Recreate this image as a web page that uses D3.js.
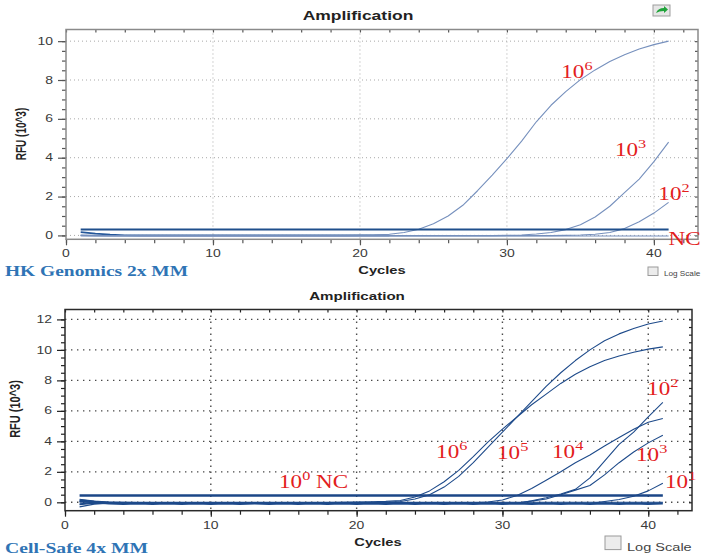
<!DOCTYPE html>
<html>
<head>
<meta charset="utf-8">
<script src="https://cdn.jsdelivr.net/npm/d3@7"></script>
<style>
  body { margin: 0; background: #fff; }
  svg { display: block; }
</style>
</head>
<body>
<svg id="chart" width="705" height="557"></svg>
<script>
// ---------- shared ----------
const cycles = d3.range(1, 42);            // cycle numbers 1..41
const xTickLabels = [0, 10, 20, 30, 40];

// ---------- panel 1: HK Genomics 2x MM ----------
const hkYTickLabels = [0, 2, 4, 6, 8, 10];
const hkThreshold = 0.31;
const hk1e6 = [0.00,0.00,-0.01,-0.01,-0.01,-0.01,-0.01,-0.01,-0.01,-0.01,-0.01,-0.01,-0.01,-0.01,-0.01,-0.01,-0.01,-0.01,-0.01,
               0.00,0.02,0.06,0.15,0.32,0.60,1.00,1.55,2.30,3.10,3.95,4.85,5.85,6.70,7.40,8.02,8.52,8.95,9.30,9.60,9.82,10.00];
const hk1e3 = [0.00,-0.01,-0.01,-0.01,-0.01,-0.01,-0.01,-0.01,-0.01,-0.01,-0.01,-0.01,-0.01,-0.01,-0.01,-0.01,-0.01,-0.01,-0.01,-0.01,
               -0.01,-0.01,-0.01,-0.01,-0.01,-0.01,-0.01,-0.01,-0.01,
               0.00,0.02,0.07,0.15,0.30,0.55,0.95,1.50,2.20,2.90,3.80,4.80];
const hk1e2 = [0.00,-0.01,-0.01,-0.01,-0.01,-0.01,-0.01,-0.01,-0.01,-0.01,-0.01,-0.01,-0.01,-0.01,-0.01,-0.01,-0.01,-0.01,-0.01,-0.01,
               -0.01,-0.01,-0.01,-0.01,-0.01,-0.01,-0.01,-0.01,-0.01,-0.01,-0.01,-0.01,-0.01,
               0.00,0.02,0.06,0.15,0.35,0.70,1.15,1.70];
const hkNC = [-0.03,-0.03,-0.03,-0.03,-0.03,-0.03,-0.03,-0.03,-0.03,-0.03,-0.03,-0.03,-0.03,-0.03,-0.03,-0.03,-0.03,-0.03,-0.03,-0.03,
              -0.03,-0.03,-0.03,-0.03,-0.03,-0.03,-0.03,-0.03,-0.03,-0.03,-0.03,-0.03,-0.03,-0.03,-0.03,-0.03,-0.03,-0.03,-0.03,-0.03,-0.03];
const hkBaseline = [0.17,0.09,0.04,0.01,0.00,0.00,0.00,0.00,0.00,0.00,0.00,0.00,0.00,0.00,0.00,0.00,0.00,0.00,0.00,0.00,0.00,0.00];
const hkLabelText  = ["10", "10", "10", "NC"];
const hkLabelSup   = ["6", "3", "2", ""];
const hkLabelCycle = [33.7, 37.35, 40.3, 41.0];
const hkLabelValue = [8.1, 4.1, 1.82, -0.49];

// ---------- panel 2: Cell-Safe 4x MM ----------
const csYTickLabels = [0, 2, 4, 6, 8, 10, 12];
const csThreshold = 0.45;
const cs1e6 = [0.20,0.08,0.02,0.00,-0.02,-0.03,-0.03,-0.03,-0.03,-0.03,-0.03,-0.03,-0.03,-0.02,-0.02,-0.02,-0.02,-0.01,0.00,0.01,0.03,0.06,
               0.12,0.35,0.75,1.35,2.10,3.00,3.95,4.80,5.60,6.40,7.10,7.80,8.40,8.90,9.30,9.60,9.85,10.05,10.20];
const cs1e5 = [-0.30,-0.12,-0.05,-0.04,-0.04,-0.04,-0.04,-0.04,-0.04,-0.04,-0.04,-0.04,-0.04,-0.04,-0.04,-0.04,-0.04,-0.04,-0.03,-0.02,-0.01,0.00,
               0.05,0.22,0.50,1.00,1.70,2.60,3.60,4.60,5.60,6.60,7.60,8.50,9.30,10.00,10.60,11.05,11.40,11.70,11.90];
const cs1e4 = [0.10,0.03,0.00,-0.02,-0.03,-0.03,-0.03,-0.03,-0.03,-0.03,-0.03,-0.03,-0.03,-0.03,-0.03,-0.03,-0.03,-0.03,-0.03,-0.03,
               -0.03,-0.03,-0.03,-0.03,-0.03,-0.03,-0.03,-0.03,
               0.02,0.15,0.45,0.90,1.45,2.00,2.60,3.10,3.70,4.25,4.80,5.25,5.50];
const cs1e3 = [-0.10,-0.02,-0.01,-0.05,-0.05,-0.05,-0.05,-0.05,-0.05,-0.05,-0.05,-0.05,-0.05,-0.05,-0.05,-0.05,-0.05,-0.05,-0.05,-0.05,
               -0.05,-0.05,-0.05,-0.05,-0.05,-0.05,-0.05,-0.05,-0.05,-0.05,-0.05,
               0.08,0.22,0.50,0.80,1.10,1.80,2.60,3.30,3.90,4.40];
const cs1e2 = [0.05,0.00,-0.06,-0.06,-0.06,-0.06,-0.06,-0.06,-0.06,-0.06,-0.06,-0.06,-0.06,-0.06,-0.06,-0.06,-0.06,-0.06,-0.06,-0.06,
               -0.06,-0.06,-0.06,-0.06,-0.06,-0.06,-0.06,-0.06,-0.06,-0.06,-0.06,
               0.10,0.30,0.55,0.85,1.60,2.70,3.80,4.60,5.60,6.55];
const cs1e1 = [-0.15,-0.05,-0.08,-0.08,-0.08,-0.08,-0.08,-0.08,-0.08,-0.08,-0.08,-0.08,-0.08,-0.08,-0.08,-0.08,-0.08,-0.08,-0.08,-0.08,
               -0.08,-0.08,-0.08,-0.08,-0.08,-0.08,-0.08,-0.08,-0.08,-0.08,-0.08,-0.08,-0.08,-0.08,-0.08,-0.08,
               0.05,0.18,0.40,0.75,1.25];
const cs1e0 = [0.12,0.02,-0.07,-0.09,-0.07,-0.09,-0.07,-0.09,-0.07,-0.09,-0.07,-0.09,-0.07,-0.09,-0.07,-0.09,-0.07,-0.09,-0.07,-0.09,
               -0.07,-0.09,-0.07,-0.09,-0.07,-0.09,-0.07,-0.09,-0.07,-0.09,-0.07,-0.09,-0.07,-0.09,-0.07,-0.09,-0.07,-0.09,-0.07,-0.09,-0.07];
const csNC = [0.00,0.00,0.00,0.00,0.00,0.00,0.00,0.00,0.00,0.00,0.00,0.00,0.00,0.00,0.00,0.00,0.00,0.00,0.00,0.00,
              0.00,0.00,0.00,0.00,0.00,0.00,0.00,0.00,0.00,0.00,0.00,0.00,0.00,0.00,0.00,0.00,0.00,0.00,0.00,0.00,0.00];
const csLabelText  = ["10", "10", "10", "10", "10", "10", "10"];
const csLabelSup   = ["0", "6", "5", "4", "3", "2", "1"];
const csLabelAfter = ["\u00a0NC", "", "", "", "", "", ""];
const csLabelCycle = [14.68, 25.45, 29.63, 33.4, 39.16, 39.92, 41.15];
const csLabelValue = [0.94, 2.91, 2.84, 2.91, 2.71, 7.04, 0.94];

// ---------- drawing ----------
const svg = d3.select("#chart");
const SX = 1.4;   // horizontal stretch of the exported lettering
const SANS = "'Liberation Sans', Arial, sans-serif";
const SERIF = "'Liberation Serif', 'Times New Roman', serif";

function sText(g, x, y, str, o) {
  const t = g.append("text")
    .attr("transform", `translate(${x},${y}) scale(${o.sx || SX},1)` + (o.rotate ? ` rotate(${o.rotate})` : ""))
    .attr("text-anchor", o.anchor || "start")
    .attr("font-family", o.family || SANS)
    .attr("font-size", o.size)
    .attr("font-weight", o.weight || "normal")
    .attr("fill", o.fill || "#333")
    .text(str);
  if (o.dy) t.attr("dy", o.dy);
  return t;
}

function drawPanel(p) {
  const g = svg.append("g");
  const x = d3.scaleLinear().domain([0, 43]).range([p.left, p.right]);
  const y = d3.scaleLinear().domain(p.yDomain).range([p.bottom, p.top]);

  // dotted grid
  g.append("g").selectAll("line").data(xTickLabels.slice(1)).join("line")
    .attr("x1", d => x(d)).attr("x2", d => x(d)).attr("y1", p.top).attr("y2", p.bottom)
    .attr("stroke", p.gridColor).attr("stroke-width", p.gridWidth).attr("stroke-dasharray", p.gridDash);
  g.append("g").selectAll("line").data(p.yTicks).join("line")
    .attr("x1", p.left).attr("x2", p.right).attr("y1", d => y(d)).attr("y2", d => y(d))
    .attr("stroke", p.gridColor).attr("stroke-width", p.gridWidth).attr("stroke-dasharray", p.gridDash);

  // axes ticks (outside left / bottom, inside right / top)
  const minorY = d3.range(0, p.yTicks[p.yTicks.length - 1] + 0.01, 0.5);
  const minorX = d3.range(0, 43, 2);
  const axisStyle = sel => {
    sel.select(".domain").remove();
    sel.selectAll("line").attr("stroke", p.tickColor).attr("stroke-width", 1.2);
  };
  g.append("g").attr("transform", `translate(${p.left},0)`)
    .call(d3.axisLeft(y).tickValues(minorY).tickSize(4).tickFormat("")).call(axisStyle);
  g.append("g").attr("transform", `translate(${p.left},0)`)
    .call(d3.axisLeft(y).tickValues(p.yTicks).tickSize(8).tickFormat("")).call(axisStyle);
  g.append("g").attr("transform", `translate(${p.right},0)`)
    .call(d3.axisLeft(y).tickValues(minorY).tickSize(3).tickFormat("")).call(axisStyle);
  g.append("g").attr("transform", `translate(0,${p.bottom})`)
    .call(d3.axisBottom(x).tickValues(minorX).tickSize(4).tickFormat("")).call(axisStyle);
  g.append("g").attr("transform", `translate(0,${p.bottom})`)
    .call(d3.axisBottom(x).tickValues(xTickLabels).tickSize(6).tickFormat("")).call(axisStyle);
  g.append("g").attr("transform", `translate(0,${p.top})`)
    .call(d3.axisBottom(x).tickValues(minorX).tickSize(3).tickFormat("")).call(axisStyle);

  // frame
  g.append("rect").attr("x", p.left).attr("y", p.top)
    .attr("width", p.right - p.left).attr("height", p.bottom - p.top)
    .attr("fill", "none").attr("stroke", p.frameColor).attr("stroke-width", p.frameWidth);

  // tick labels
  p.yTicks.forEach(v => sText(g, p.left - 13, y(v), String(v), { size: p.tickSize, anchor: "end", dy: "0.36em", fill: "#3a3a3a" }));
  xTickLabels.forEach(v => sText(g, x(v), p.bottom + p.xLabelGap, String(v), { size: p.tickSize, anchor: "middle", fill: "#3a3a3a" }));

  // curves
  const line = d3.line().x((d, i) => x(cycles[i])).y(d => y(d));
  p.series.forEach(s => {
    g.append("path").datum(s.values).attr("d", line)
      .attr("fill", "none").attr("stroke", s.color).attr("stroke-width", s.width)
      .attr("stroke-linejoin", "round");
  });

  // threshold
  g.append("line").attr("x1", x(cycles[0])).attr("x2", x(cycles[cycles.length - 1]))
    .attr("y1", y(p.threshold)).attr("y2", y(p.threshold))
    .attr("stroke", p.thresholdColor).attr("stroke-width", p.thresholdWidth);

  // red annotations
  p.labels.forEach(l => {
    const t = g.append("text")
      .attr("transform", `translate(${x(l.cycle)},${y(l.value)}) scale(1.25,1)`)
      .attr("font-family", SERIF).attr("font-size", 18.5).attr("fill", "#e3201c");
    t.append("tspan").text(l.text);
    if (l.sup) t.append("tspan").attr("dy", -8).attr("font-size", 13).text(l.sup);
    if (l.after) t.append("tspan").attr("dy", l.sup ? 8 : 0).text(l.after);
  });

  // titles
  sText(g, p.titleX, p.titleY, "Amplification", { size: p.titleSize, weight: "bold", anchor: "middle", fill: "#222" });
  sText(g, p.cyclesX, p.cyclesY, "Cycles", { size: p.cyclesSize, weight: "bold", anchor: "middle", fill: "#222" });
  sText(g, p.rfuX, p.rfuY, "RFU (10^3)", { size: p.rfuSize, weight: "bold", anchor: "middle", fill: "#222", rotate: -90 });

  // kit name
  g.append("text").attr("x", 5).attr("y", p.kitY)
    .attr("font-family", SERIF).attr("font-weight", "bold").attr("font-size", p.kitSize)
    .attr("fill", "#2f74b5").attr("textLength", p.kitLen).attr("lengthAdjust", "spacingAndGlyphs")
    .text(p.kit);

  // log scale checkbox
  g.append("rect").attr("x", p.logX).attr("y", p.logY - p.logBox).attr("width", p.logBox).attr("height", p.logBox * 0.85)
    .attr("fill", "#ececec").attr("stroke", "#9a9a9a").attr("stroke-width", 1);
  sText(g, p.logX + p.logBox + 6, p.logY - 1, "Log Scale", { size: p.logSize, fill: "#444", sx: p.logSx });
  return g;
}

const hkColor = "#7690bd";
drawPanel({
  left: 66, right: 698, top: 29.5, bottom: 239.3, yDomain: [-0.2, 10.6],
  yTicks: hkYTickLabels, gridColor: "#a9a9a9", gridWidth: 1, gridDash: "1,3",
  tickColor: "#555", frameColor: "#8a8a8a", frameWidth: 1.5,
  tickSize: 10, xLabelGap: 18,
  series: [
    { values: hkBaseline, color: "#24579a", width: 1.6 },
    { values: hkNC, color: hkColor, width: 1.1 },
    { values: hk1e2, color: hkColor, width: 1.1 },
    { values: hk1e3, color: hkColor, width: 1.1 },
    { values: hk1e6, color: hkColor, width: 1.1 }
  ],
  threshold: hkThreshold, thresholdColor: "#1f4f8c", thresholdWidth: 2,
  labels: hkLabelText.map((t, i) => ({ text: t, sup: hkLabelSup[i], cycle: hkLabelCycle[i], value: hkLabelValue[i] })),
  titleX: 358, titleY: 20, titleSize: 12.5,
  cyclesX: 382, cyclesY: 274, cyclesSize: 10.5,
  rfuX: 26, rfuY: 134, rfuSize: 10,
  kit: "HK Genomics 2x MM", kitY: 276, kitSize: 15, kitLen: 183,
  logX: 648, logY: 277, logBox: 10, logSize: 6.8, logSx: 1.2
});

const csColor = "#1d4a8a";
drawPanel({
  left: 65, right: 692, top: 309.5, bottom: 510.7, yDomain: [-0.55, 12.65],
  yTicks: csYTickLabels, gridColor: "#4a4a4a", gridWidth: 1.4, gridDash: "1.4,4.6",
  tickColor: "#222", frameColor: "#2a2a2a", frameWidth: 1.5,
  tickSize: 10, xLabelGap: 18,
  series: [
    { values: csNC, color: csColor, width: 1.1 },
    { values: cs1e0, color: csColor, width: 2.4 },
    { values: cs1e1, color: csColor, width: 1.1 },
    { values: cs1e3, color: csColor, width: 1.1 },
    { values: cs1e2, color: csColor, width: 1.1 },
    { values: cs1e4, color: csColor, width: 1.1 },
    { values: cs1e5, color: csColor, width: 1.1 },
    { values: cs1e6, color: csColor, width: 1.1 }
  ],
  threshold: csThreshold, thresholdColor: "#1b4687", thresholdWidth: 2.6,
  labels: csLabelText.map((t, i) => ({ text: t, sup: csLabelSup[i], after: csLabelAfter[i], cycle: csLabelCycle[i], value: csLabelValue[i] })),
  titleX: 357, titleY: 300, titleSize: 10.8,
  cyclesX: 378, cyclesY: 546, cyclesSize: 10.5,
  rfuX: 20, rfuY: 409, rfuSize: 11,
  kit: "Cell-Safe 4x MM", kitY: 553, kitSize: 15, kitLen: 143,
  logX: 605, logY: 552, logBox: 16, logSize: 10.4, logSx: 1.4
});

// export icon above the first panel
const icon = svg.append("g");
icon.append("rect").attr("x", 653).attr("y", 5).attr("width", 17).attr("height", 11)
  .attr("fill", "#e6e6e6").attr("stroke", "#9d9d9d");
icon.append("path").attr("d", "M656,13 Q658,8 664,8 L664,6 L668,9.5 L664,13 L664,11 Q659,11 656,13 Z")
  .attr("fill", "#1fa33a");
</script>
</body>
</html>
